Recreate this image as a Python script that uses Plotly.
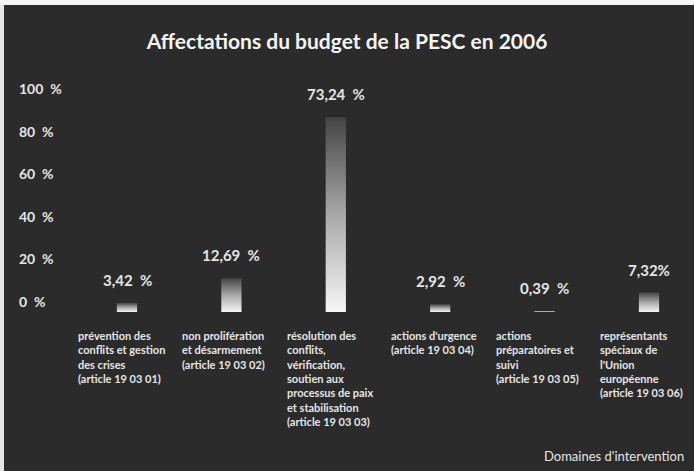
import plotly.graph_objects as go

# ---- data ----
categories = [
    "prévention des<br>conflits et gestion<br>des crises<br>(article 19 03 01)",
    "non prolifération<br>et désarmement<br>(article 19 03 02)",
    "résolution des<br>conflits,<br>vérification,<br>soutien aux<br>processus de paix<br>et stabilisation<br>(article 19 03 03)",
    "actions d'urgence<br>(article 19 03 04)",
    "actions<br>préparatoires et<br>suivi<br>(article 19 03 05)",
    "représentants<br>spéciaux de<br>l'Union<br>européenne<br>(article 19 03 06)",
]
values = [3.42, 12.69, 73.24, 2.92, 0.39, 7.32]
value_labels = ["3,42\u00a0\u00a0%", "12,69\u00a0\u00a0%", "73,24\u00a0\u00a0%",
                "2,92\u00a0\u00a0%", "0,39\u00a0\u00a0%", "7,32%"]
tick_values = [0, 20, 40, 60, 80, 100]
tick_labels = ["0\u00a0\u00a0%", "20\u00a0\u00a0%", "40\u00a0\u00a0%", "60\u00a0\u00a0%",
               "80\u00a0\u00a0%", "100\u00a0\u00a0%"]

BG = "#2b2b2b"
FG = "#e6e6e6"
W, H = 694, 471
half_w = 0.097

fig = go.Figure()

for i, v in enumerate(values):
    fig.add_trace(go.Scatter(
        x=[i - half_w, i + half_w, i + half_w, i - half_w, i - half_w],
        y=[0, 0, v, v, 0],
        mode="lines",
        line=dict(width=0),
        fill="toself",
        fillgradient=dict(type="vertical",
                          colorscale=[[0, "#f6f6f6"], [0.5, "#a8a8a8"], [1, "#444444"]]),
        hoverinfo="skip",
        showlegend=False,
    ))

# invisible trace to carry the percentage tick axis
fig.add_trace(go.Scatter(x=[0, 0], y=[tick_values[0], tick_values[-1]], yaxis="y2",
                         mode="markers", marker=dict(opacity=0), hoverinfo="skip",
                         showlegend=False))

annotations = []
for i, (v, lab) in enumerate(zip(values, value_labels)):
    annotations.append(dict(x=i, y=v, xref="x", yref="y", text=lab, showarrow=False,
                            yanchor="middle", yshift=23,
                            font=dict(family="Lato", size=15, color=FG, weight="bold")))
for i, c in enumerate(categories):
    annotations.append(dict(x=i, y=1 - 327 / H, xref="x", yref="paper", text=c,
                            showarrow=False, xanchor="left", yanchor="top", xshift=-51,
                            align="left",
                            font=dict(family="Lato", size=11, color=FG, weight="bold")))
annotations.append(dict(x=1 - 8 / W, y=1 - 456 / H, xref="paper", yref="paper",
                        text="Domaines d'intervention", showarrow=False,
                        xanchor="right", yanchor="middle",
                        font=dict(family="Lato", size=13, color=FG)))

fig.update_layout(
    width=W, height=H,
    margin=dict(l=0, r=0, t=0, b=0),
    paper_bgcolor=BG, plot_bgcolor=BG,
    title=dict(text="Affectations du budget de la PESC en 2006", x=0.5, xanchor="center",
               y=1 - 42 / H, yanchor="middle",
               font=dict(family="Lato", size=21, color="#f4f4f4", weight="bold")),
    xaxis=dict(range=[-127 / 104.4, -127 / 104.4 + W / 104.4], visible=False,
               showgrid=False, zeroline=False, fixedrange=True),
    yaxis=dict(range=[-159 / 2.66, -159 / 2.66 + H / 2.66], visible=False,
               showgrid=False, zeroline=False),
    yaxis2=dict(range=[-169 / 2.13, -169 / 2.13 + H / 2.13], overlaying="y",
                anchor="free", position=18 / W, side="right",
                tickvals=tick_values, ticktext=tick_labels, showgrid=False, zeroline=False,
                showline=False, ticks="",
                tickfont=dict(family="Lato", size=14, color=FG, weight="bold")),
    annotations=annotations,
    shapes=[
        dict(type="rect", xref="paper", yref="paper", x0=0, x1=4 / W, y0=0, y1=1,
             fillcolor="#e4e4e4", line=dict(width=0)),
        dict(type="rect", xref="paper", yref="paper", x0=0, x1=1, y0=1 - 5 / H, y1=1,
             fillcolor="#f4f4f4", line=dict(width=0)),
    ],
)

fig.write_html("out.html")
